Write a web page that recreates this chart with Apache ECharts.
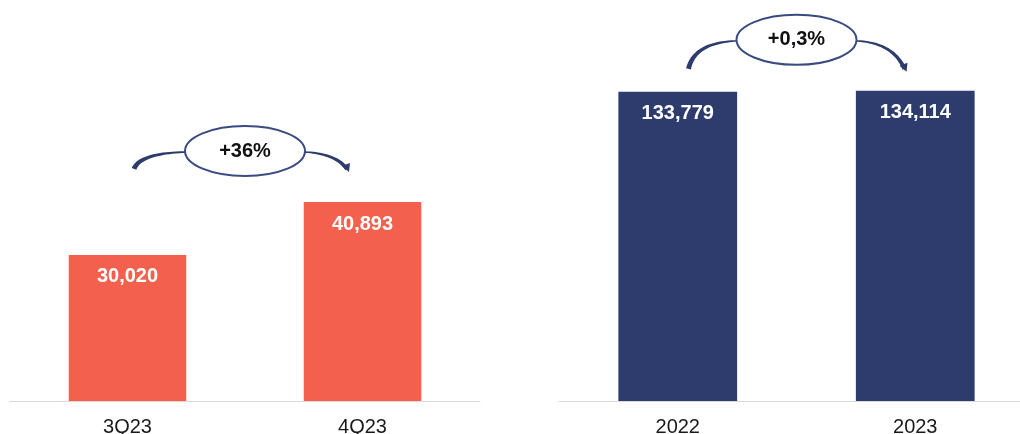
<!DOCTYPE html>
<html>
<head>
<meta charset="utf-8">
<script src="https://cdn.jsdelivr.net/npm/echarts@6/dist/echarts.min.js"></script>
<style>
  html, body { margin: 0; padding: 0; background: #fff; }
  #chart { width: 1020px; height: 434px; }
</style>
</head>
<body>
<div id="chart"></div>
<script>
var quarters = ['3Q23', '4Q23'];
var quarterValues = [30020, 40893];
var years = ['2022', '2023'];
var yearValues = [133779, 134114];
var changeLabels = ['+36%', '+0,3%'];

var ORANGE = '#F3604D';
var NAVY = '#2E3C6D';
var FONT = '"Liberation Sans", Arial, sans-serif';

var chart = echarts.init(document.getElementById('chart'));

function makeXAxis(gridIndex, data) {
  return {
    type: 'category', gridIndex: gridIndex, data: data,
    axisLine: {lineStyle: {color: '#D9D9D9', width: 1}},
    axisTick: {show: false},
    axisLabel: {color: '#1a1a1a', fontSize: 20, fontFamily: FONT, margin: 16}
  };
}

function makeYAxis(gridIndex, max) {
  return {type: 'value', gridIndex: gridIndex, min: 0, max: max, show: false, splitLine: {show: false}};
}

function makeBars(index, data, color) {
  return {
    type: 'bar', xAxisIndex: index, yAxisIndex: index, data: data,
    barWidth: '50%',
    itemStyle: {color: color},
    label: {
      show: true, position: 'insideTop', distance: 12,
      color: '#fff', fontSize: 20, fontWeight: 'bold', fontFamily: FONT,
      formatter: function(p) { return p.value.toLocaleString('en-US'); }
    }
  };
}

chart.setOption({
  animation: false,
  grid: [
    {left: 10, width: 470, top: 109, bottom: 33, outerBoundsMode: 'none'},
    {left: 559, width: 475, top: 31, bottom: 33, outerBoundsMode: 'none'}
  ],
  xAxis: [makeXAxis(0, quarters), makeXAxis(1, years)],
  yAxis: [makeYAxis(0, 60000), makeYAxis(1, 160000)],
  series: [makeBars(0, quarterValues, ORANGE), makeBars(1, yearValues, NAVY)]
});

// tapered curved stroke drawn as a filled polygon
function taperedArc(a, c, b, w0, w1) {
  var side1 = [], side2 = [];
  for (var i = 0; i <= 24; i++) {
    var t = i / 24, u = 1 - t;
    var x = u * u * a[0] + 2 * u * t * c[0] + t * t * b[0];
    var y = u * u * a[1] + 2 * u * t * c[1] + t * t * b[1];
    var dx = 2 * u * (c[0] - a[0]) + 2 * t * (b[0] - c[0]);
    var dy = 2 * u * (c[1] - a[1]) + 2 * t * (b[1] - c[1]);
    var len = Math.sqrt(dx * dx + dy * dy) || 1;
    var w = (w0 + (w1 - w0) * t) / 2;
    side1.push([x - dy / len * w, y + dx / len * w]);
    side2.unshift([x + dy / len * w, y - dx / len * w]);
  }
  return {type: 'polygon', shape: {points: side1.concat(side2)}, style: {fill: NAVY}};
}

function changeBadge(index, cats, vals, text, spanL, spanR, drop) {
  var p0 = chart.convertToPixel({gridIndex: index}, [cats[0], vals[0]]);
  var p1 = chart.convertToPixel({gridIndex: index}, [cats[1], vals[1]]);
  var cx = (p0[0] + p1[0]) / 2;
  var cy = Math.min(p0[1], p1[1]) - 51;
  var endR = [cx + spanR, cy + drop];
  return [
    taperedArc([cx - 58, cy + 1], [cx - spanL + 6, cy + 2], [cx - spanL, cy + drop], 1.5, 5),
    taperedArc([cx + 58, cy + 1], [cx + spanR - 12, cy + 2], endR, 1.5, 4),
    {type: 'polygon', shape: {points: [
      [endR[0] - 5, endR[1] - 3], [endR[0] + 3, endR[1] - 6], [endR[0] + 2, endR[1] + 3]
    ]}, style: {fill: NAVY}},
    {type: 'ellipse', shape: {cx: cx, cy: cy, rx: 60, ry: 25},
      style: {fill: '#fff', stroke: '#3A4A82', lineWidth: 2}},
    {type: 'text', x: cx, y: cy,
      style: {text: text, fill: '#111', font: 'bold 20px ' + FONT,
        textAlign: 'center', textVerticalAlign: 'middle', align: 'center', verticalAlign: 'middle'}}
  ];
}

chart.setOption({
  graphic: changeBadge(0, quarters, quarterValues, changeLabels[0], 111, 102, 18)
    .concat(changeBadge(1, years, yearValues, changeLabels[1], 108, 108, 29))
});
</script>
</body>
</html>
